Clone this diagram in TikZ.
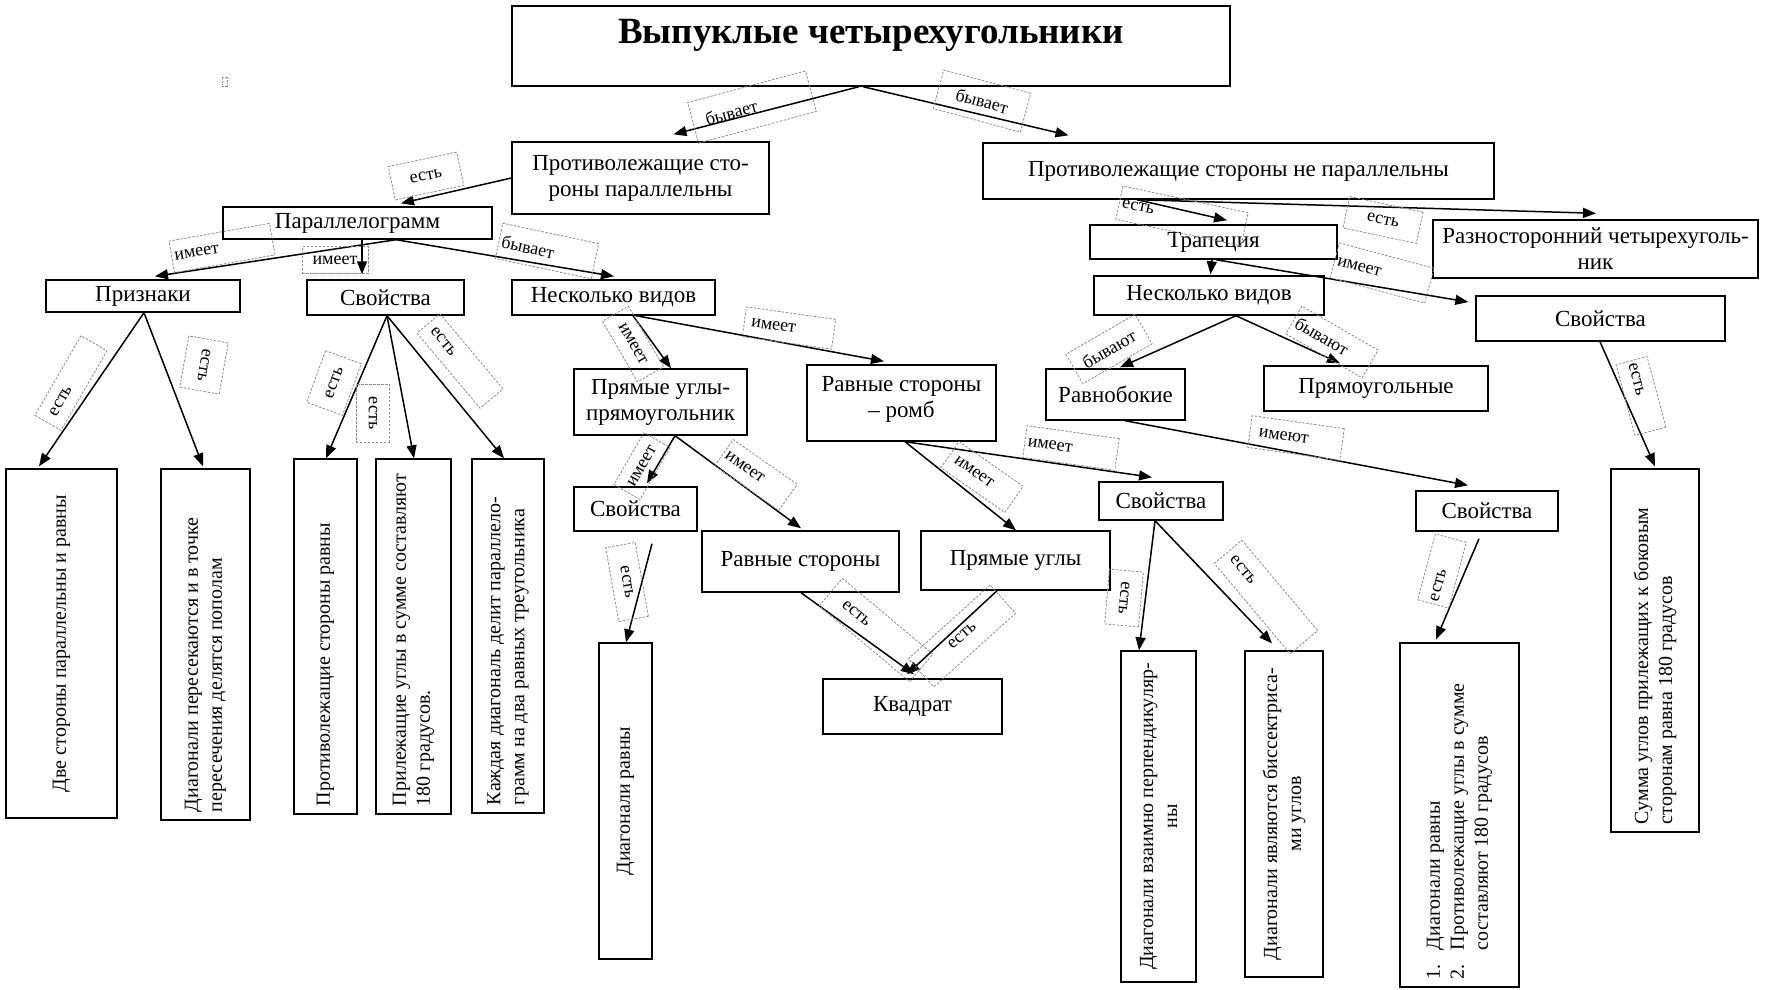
\documentclass[tikz,border=0pt]{standalone}
\usepackage{fontspec}
\setmainfont{Liberation Serif}
\usetikzlibrary{arrows.meta}
\tikzset{
 box/.style={draw, line width=1.4pt, inner sep=2pt, align=center, font=\fontsize{23}{26}\selectfont},
 vbox/.style={draw, line width=1.4pt, inner sep=0pt, font=\fontsize{20}{24}\selectfont},
 lbl/.style={draw=black!45, dash pattern=on 2.5pt off 1.5pt, line width=0.8pt, inner sep=3pt, font=\fontsize{18}{20}\selectfont},
 ll/.style={text width=#1, align=left},
 arr/.style={line width=1.5pt, -{Triangle[length=13pt,width=10pt]}},
}
\newcommand{\vl}[2]{\rotatebox{90}{\parbox{#1}{\raggedright #2}}}
\newcommand{\vc}[2]{\rotatebox{90}{\parbox{#1}{\centering #2}}}
\begin{document}
\begin{tikzpicture}[x=1pt,y=-1pt]
\useasboundingbox (0,0) rectangle (1765,989);
% boxes
\node[box, minimum width=718pt, minimum height=80pt] (title) at (871,46) {};
\node[anchor=base, font=\fontsize{37}{42}\selectfont\bfseries] (titletext) at (871,43) {Выпуклые четырехугольники};
\node[box, minimum width=257pt, minimum height=72pt] (ppar) at (640.5,178) {Противолежащие сто-\\роны параллельны};
\node[box, minimum width=511pt, minimum height=56pt] (pnpar) at (1238.5,171) {Противолежащие стороны не параллельны};
\node[box, minimum width=269pt, minimum height=32pt] (par) at (357.5,223) {Параллелограмм};
\node[box, minimum width=194pt, minimum height=32pt] (priz) at (143,296) {Признаки};
\node[box, minimum width=157pt, minimum height=35pt] (sv1) at (385.5,297.5) {Свойства};
\node[box, minimum width=203pt, minimum height=35pt] (nv1) at (613.5,297.5) {Несколько видов};
\node[box, minimum width=247pt, minimum height=34pt] (trap) at (1213.5,242) {Трапеция};
\node[box, minimum width=325pt, minimum height=58pt] (razn) at (1595.5,249) {Разносторонний четырехуголь-\\ник};
\node[box, minimum width=230pt, minimum height=39pt] (nv2) at (1209,295.5) {Несколько видов};
\node[box, minimum width=249pt, minimum height=45pt] (sv5) at (1600.5,318.5) {Свойства};
\node[box, minimum width=173pt, minimum height=66pt] (pryam) at (660.5,402) {Прямые углы-\\прямоугольник};
\node[box, minimum width=189pt, minimum height=76pt] (romb) at (901.5,403) {Равные стороны\\– ромб\\[-14pt]\mbox{}};
\node[box, minimum width=139pt, minimum height=51pt] (ravnob) at (1115.5,394.5) {Равнобокие};
\node[box, minimum width=224pt, minimum height=45pt] (pryamoug) at (1376,388.5) {Прямоугольные};
\node[box, minimum width=123pt, minimum height=44pt] (sv2) at (635.5,509) {Свойства};
\node[box, minimum width=197pt, minimum height=61pt] (rs) at (800.5,561.5) {Равные стороны};
\node[box, minimum width=189pt, minimum height=59pt] (pu) at (1015.5,560.5) {Прямые углы};
\node[box, minimum width=179pt, minimum height=55pt] (kv) at (912.5,706.5) {Квадрат};
\node[box, minimum width=124pt, minimum height=38pt] (sv3) at (1161,501) {Свойства};
\node[box, minimum width=142pt, minimum height=40pt] (sv4) at (1487,511) {Свойства};
% vertical boxes
\node[vbox, minimum width=111pt, minimum height=349pt] (v1) at (61.5,643.5) {\vc{330pt}{Две стороны параллельны и равны}};
\node[vbox, minimum width=89pt, minimum height=351pt] (v2) at (205.5,644.5) {\vl{335pt}{Диагонали пересекаются и в точке\\пересечения делятся пополам}};
\node[vbox, minimum width=63pt, minimum height=355pt] (v3) at (325.5,636.5) {\vl{339pt}{Противолежащие стороны равны}};
\node[vbox, minimum width=75pt, minimum height=355pt] (v4) at (413.5,636.5) {\vl{339pt}{Прилежащие углы в сумме составляют\\180 градусов.}};
\node[vbox, minimum width=72pt, minimum height=354pt] (v5) at (508,636) {\vl{338pt}{Каждая диагональ делит параллело-\\грамм на два равных треугольника}};
\node[vbox, minimum width=53pt, minimum height=316pt] (v6) at (625.5,801) {\vc{300pt}{Диагонали равны}};
\node[vbox, minimum width=75pt, minimum height=331pt] (v7) at (1158.5,816.5) {\vc{315pt}{Диагонали взаимно перпендикуляр-\\ны}};
\node[vbox, minimum width=78pt, minimum height=326pt] (v8) at (1284,814) {\vc{310pt}{Диагонали являются биссектриса-\\ми углов}};
\node[vbox, minimum width=119pt, minimum height=344pt] (v9) at (1459.5,815) {\vl{328pt}{1.\hspace{14pt}Диагонали равны\\2.\hspace{14pt}Противолежащие углы в сумме\\\phantom{2.}\hspace{14pt}составляют 180 градусов}};
\node[vbox, minimum width=88pt, minimum height=363pt] (v10) at (1655,650.5) {\vl{347pt}{Сумма углов прилежащих к боковым\\сторонам равна 180 градусов}};
% stray mark
\node[draw=black!45, dash pattern=on 1.5pt off 1pt, line width=0.6pt, minimum width=5pt, minimum height=9pt, inner sep=0pt] (mark) at (225,82) {};
% connectors
\draw[arr] ([xshift=-12pt]title.south) -- ([xshift=33pt,yshift=7pt]ppar.north);
\draw[arr] ([xshift=-8pt]title.south) -- ([xshift=-170pt,yshift=7pt]pnpar.north);
\draw[arr] (ppar.west) -- ([xshift=43.5pt,yshift=3pt]par.north);
\draw[arr] ([xshift=38.5pt]par.south) -- ([xshift=12pt,yshift=3pt]priz.north);
\draw[arr] ([xshift=4.5pt]par.south) -- ([xshift=4.5pt,yshift=5pt]sv1.north -| par.south);
\draw[arr] ([xshift=38.5pt]par.south) -- ([xshift=0.5pt,yshift=3pt]nv1.north);
\draw[arr] ([xshift=1pt]priz.south) -- ([xshift=-22.5pt,yshift=2pt]v1.north);
\draw[arr] ([xshift=1pt]priz.south) -- ([xshift=-2.5pt,yshift=2pt]v2.north);
\draw[arr] ([xshift=1.5pt]sv1.south) -- ([xshift=0.5pt]v3.north);
\draw[arr] ([xshift=1.5pt]sv1.south) -- ([xshift=0.5pt]v4.north);
\draw[arr] ([xshift=1.5pt]sv1.south) -- ([xshift=-4pt]v5.north);
\draw[arr] ([xshift=19.5pt]nv1.south) -- ([xshift=10.5pt]pryam.north);
\draw[arr] ([xshift=22.5pt]nv1.south) -- ([xshift=-17.5pt,yshift=3pt]romb.north);
\draw[arr] ([xshift=14.5pt]pryam.south) -- ([xshift=11.5pt,yshift=3pt]sv2.north);
\draw[arr] ([xshift=14.5pt]pryam.south) -- ([xshift=0.5pt,yshift=2pt]rs.north);
\draw[arr] ([xshift=16.5pt,yshift=-12pt]sv2.south) -- ([xshift=0.5pt]v6.north);
\draw[arr] ([xshift=0.5pt]rs.south) -- ([xshift=1.5pt,yshift=4pt]kv.north);
\draw[arr] ([xshift=-18.5pt]pu.south) -- ([xshift=-5.5pt,yshift=4pt]kv.north);
\draw[arr] ([xshift=3.5pt]romb.south) -- ([xshift=0.5pt]pu.north);
\draw[arr] ([xshift=3.5pt]romb.south) -- ([xshift=-9pt,yshift=4pt]sv3.north);
\draw[arr] ([xshift=-6pt]sv3.south) -- ([xshift=-19.5pt]v7.north);
\draw[arr] ([xshift=-6pt]sv3.south) -- ([xshift=-12pt,yshift=7pt]v8.north);
\draw[arr] ([xshift=-101.5pt]pnpar.south) -- ([xshift=13.5pt,yshift=4pt]trap.north);
\draw[arr] ([xshift=-101.5pt]pnpar.south) -- ([xshift=0.5pt,yshift=6pt]razn.north);
\draw[arr] ([xshift=-1.5pt]trap.south) -- ([xshift=1.5pt,yshift=1pt]nv2.north);
\draw[arr] ([xshift=2.5pt]trap.south) -- ([xshift=-7pt,yshift=16.5pt]sv5.west);
\draw[arr] ([xshift=27pt]nv2.south) -- ([xshift=4.5pt,yshift=1pt]ravnob.north);
\draw[arr] ([xshift=27pt]nv2.south) -- ([xshift=-36pt,yshift=2pt]pryamoug.north);
\draw[arr] ([xshift=9.5pt]ravnob.south) -- ([xshift=-19pt,yshift=5pt]sv4.north);
\draw[arr] ([xshift=-8pt,yshift=-7pt]sv4.south) -- ([xshift=-23.5pt,yshift=3pt]v9.north);
\draw[arr] ([xshift=-0.5pt]sv5.south) -- ([yshift=2pt]v10.north);
% labels
\node[lbl, rotate=15, ll=116pt, minimum height=42pt] (l1) at (752,107) {\hspace*{10pt}бывает};
\node[lbl, rotate=-15, minimum width=90pt, minimum height=40pt] (l2) at (982,101) {бывает};
\node[lbl, rotate=12, minimum width=70pt, minimum height=34pt] (l3) at (426,176) {есть};
\node[lbl, rotate=10, ll=96pt, minimum height=32pt] (l4) at (222,248) {имеет};
\node[lbl, minimum width=66pt, minimum height=27pt] (l5) at (335,260) {имеет};
\node[lbl, rotate=-12, ll=92pt, minimum height=36pt] (l6) at (547,251) {бывает};
\node[lbl, rotate=60, ll=86pt, minimum height=30pt] (l7) at (71,383) {\hspace*{6pt}есть};
\node[lbl, rotate=-100, minimum width=52pt, minimum height=40pt] (l8) at (204,365) {есть};
\node[lbl, rotate=70, minimum width=55pt, minimum height=38pt] (l9) at (334,383) {есть};
\node[lbl, rotate=-90, minimum width=58pt, minimum height=33pt] (l10) at (373,413) {есть};
\node[lbl, rotate=-50, ll=92pt, minimum height=30pt] (l11) at (460,361) {\hspace*{4pt}есть};
\node[lbl, rotate=-60, minimum width=70pt, minimum height=30pt] (l12) at (633,344) {имеет};
\node[lbl, rotate=-8, ll=84pt, minimum height=30pt] (l13) at (789,328) {\hspace*{4pt}имеет};
\node[lbl, rotate=60, minimum width=60pt, minimum height=30pt] (l14) at (642,466) {имеет};
\node[lbl, rotate=-35, ll=72pt, minimum height=32pt] (l15) at (756,475) {имеет};
\node[lbl, rotate=-80, minimum width=75pt, minimum height=30pt] (l16) at (627,582) {есть};
\node[lbl, rotate=-40, ll=112pt, minimum height=36pt] (l17) at (876,630) {\hspace*{14pt}есть};
\node[lbl, rotate=42, minimum width=110pt, minimum height=38pt] (l18) at (962,636) {есть};
\node[lbl, rotate=-35, ll=72pt, minimum height=32pt] (l19) at (982,477) {\hspace*{4pt}имеет};
\node[lbl, rotate=-8, ll=87pt, minimum height=32pt] (l20) at (1071,448) {имеет};
\node[lbl, rotate=-95, minimum width=55pt, minimum height=34pt] (l21) at (1124,598) {есть};
\node[lbl, rotate=-50, ll=112pt, minimum height=36pt] (l22) at (1266,597) {\hspace*{4pt}есть};
\node[lbl, rotate=-12, ll=122pt, minimum height=34pt] (l23) at (1182,216) {есть};
\node[lbl, rotate=-12, minimum width=75pt, minimum height=32pt] (l24) at (1383,220) {есть};
\node[lbl, rotate=-15, ll=92pt, minimum height=36pt] (l25) at (1382,273) {имеет};
\node[lbl, rotate=30, minimum width=80pt, minimum height=34pt] (l26) at (1109,349) {бывают};
\node[lbl, rotate=-30, ll=82pt, minimum height=32pt] (l27) at (1332,342) {бывают};
\node[lbl, rotate=-8, ll=87pt, minimum height=32pt] (l28) at (1296,438) {\hspace*{6pt}имеют};
\node[lbl, rotate=75, ll=62pt, minimum height=32pt] (l29) at (1442,571) {есть};
\node[lbl, rotate=-75, ll=67pt, minimum height=32pt] (l30) at (1641,396) {есть};
\end{tikzpicture}
\end{document}
